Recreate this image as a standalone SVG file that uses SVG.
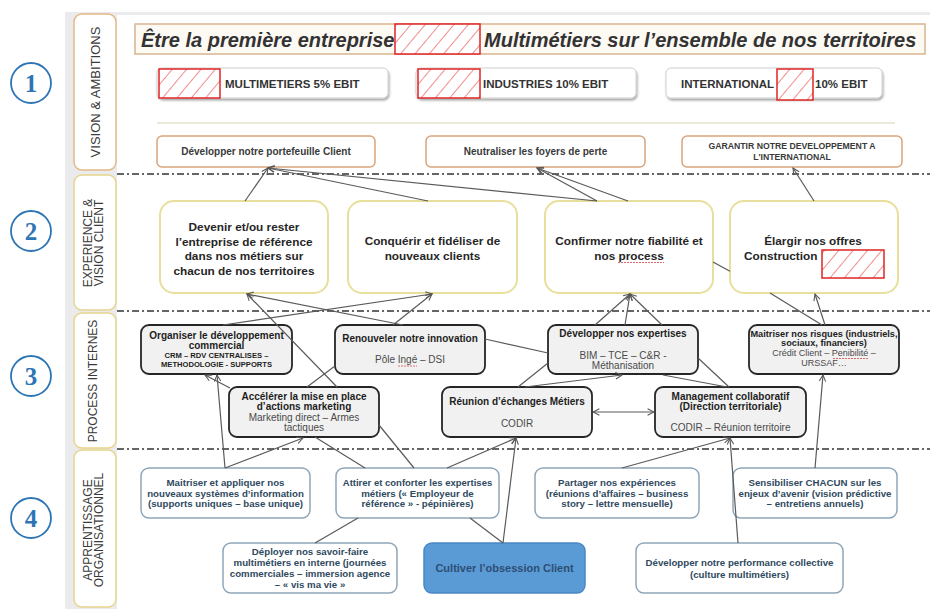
<svg xmlns="http://www.w3.org/2000/svg" width="930" height="609" viewBox="0 0 930 609">
<defs>
<style>
text{font-family:"Liberation Sans",Arial,sans-serif}
.lane{fill:#fff;stroke:#e6d58c;stroke-width:1.5}
.lanet{font-size:12px;fill:#3a3a3a;text-anchor:middle}
.num{font-family:"Liberation Serif","Times New Roman",serif;font-weight:bold;font-size:25px;fill:#2e75b6;text-anchor:middle}
.circ{fill:#fff;stroke:#2e75b6;stroke-width:1.8}
.sep{stroke:#333;stroke-width:1.5;stroke-dasharray:7 3 2 3;fill:none}
.hatch{fill:url(#hatch);stroke:#e02424;stroke-width:1.5}
.kpi{fill:#fff;stroke:#cfcfcf;stroke-width:1}
.kpit{font-size:11.5px;font-weight:bold;fill:#333}
.title{font-size:20px;font-weight:bold;font-style:italic;fill:#333}
.obj{fill:#fff;stroke:#d9a47c;stroke-width:1.5}
.objt{font-size:10px;font-weight:bold;fill:#3a3a3a;text-anchor:middle}
.ex{fill:#fff;stroke:#e9df9c;stroke-width:2}
.ext{font-size:11.8px;font-weight:bold;fill:#262626;text-anchor:middle}
.pi{fill:#f1f1f1;stroke:#262626;stroke-width:1.8}
.pib{font-size:10px;font-weight:bold;fill:#1e1e1e;text-anchor:middle}
.pin{font-size:10px;fill:#4a4a4a;text-anchor:middle}
.ap{fill:#fff;stroke:#8ea6b8;stroke-width:1.5}
.apt{font-size:9.7px;font-weight:bold;fill:#2f4a60;text-anchor:middle}
.con{stroke:#5a5a5a;stroke-width:1.2;fill:none}
.arr{marker-end:url(#arr)}
.arr2{marker-start:url(#arr);marker-end:url(#arr)}
.sq{stroke:#e06a6a;stroke-width:1;fill:none;stroke-dasharray:2 1}
</style>
<pattern id="hatch" patternUnits="userSpaceOnUse" width="11" height="11" patternTransform="rotate(40)">
<rect width="11" height="11" fill="#fff"/>
<line x1="0" y1="0" x2="0" y2="11" stroke="#e53030" stroke-width="1.1"/>
</pattern>
<marker id="arr" viewBox="0 0 10 10" refX="9" refY="5" markerWidth="8" markerHeight="8" markerUnits="userSpaceOnUse" orient="auto-start-reverse">
<path d="M1,1 L9,5 L1,9" fill="none" stroke="#555" stroke-width="1.3"/>
</marker>
<filter id="sh" x="-10%" y="-30%" width="120%" height="170%">
<feDropShadow dx="1" dy="2" stdDeviation="1.2" flood-color="#000" flood-opacity="0.35"/>
</filter>
</defs>

<rect x="0" y="0" width="930" height="609" fill="#fff"/>
<rect x="65" y="12" width="865" height="597" fill="#ebebee"/>
<rect x="117" y="15" width="813" height="594" fill="#fff"/>

<g id="circles">
<circle class="circ" cx="31" cy="83" r="20"/><text class="num" x="31" y="91.5">1</text>
<circle class="circ" cx="31" cy="231" r="20"/><text class="num" x="31" y="239.5">2</text>
<circle class="circ" cx="31" cy="376" r="20"/><text class="num" x="31" y="384.5">3</text>
<circle class="circ" cx="31" cy="518" r="20"/><text class="num" x="31" y="526.5">4</text>
</g>

<g id="lanes">
<rect class="lane" x="74" y="14" width="42" height="156" rx="8" style="stroke:#e3b888"/>
<text class="lanet" transform="translate(100,92) rotate(-90)" style="font-size:13px">VISION &amp; AMBITIONS</text>
<rect class="lane" x="74" y="175" width="42" height="135" rx="8"/>
<text class="lanet" transform="translate(92,243) rotate(-90)"><tspan x="0" y="0">EXPERIENCE &amp;</tspan><tspan x="0" y="10.5">VISION CLIENT</tspan></text>
<rect class="lane" x="74" y="313" width="42" height="135" rx="8"/>
<text class="lanet" transform="translate(97,381) rotate(-90)">PROCESS INTERNES</text>
<rect class="lane" x="74" y="450" width="42" height="157" rx="8"/>
<text class="lanet" transform="translate(92,530) rotate(-90)"><tspan x="0" y="0">APPRENTISSAGE</tspan><tspan x="0" y="10.5">ORGANISATIONNEL</tspan></text>
<line x1="157" y1="123" x2="895" y2="123" stroke="#d8d3b2" stroke-width="1"/>
<line class="sep" x1="117" y1="174" x2="930" y2="174"/>
<line class="sep" x1="117" y1="311" x2="930" y2="311"/>
<line class="sep" x1="117" y1="449" x2="930" y2="449"/>
</g>

<g id="title">
<rect x="135" y="24" width="790" height="30" fill="#fdf9f3" stroke="#d9b48f" stroke-width="1.5"/>
<text class="title" x="141" y="47">Être la première entreprise</text>
<rect class="hatch" x="395" y="24" width="85" height="30"/>
<text class="title" x="484" y="47">Multimétiers sur l’ensemble de nos territoires</text>
</g>

<g id="kpi-multimetiers">
<rect class="kpi" x="157" y="68" width="231" height="30" rx="5" filter="url(#sh)"/>
<rect class="hatch" x="159" y="69" width="61" height="29"/>
<text class="kpit" x="225" y="87.5">MULTIMETIERS 5% EBIT</text>
</g>
<g id="kpi-industries">
<rect class="kpi" x="416" y="68" width="220" height="30" rx="5" filter="url(#sh)"/>
<rect class="hatch" x="418" y="69" width="62" height="29"/>
<text class="kpit" x="483" y="87.5">INDUSTRIES 10% EBIT</text>
</g>
<g id="kpi-international">
<rect class="kpi" x="666" y="68" width="216" height="30" rx="5" filter="url(#sh)"/>
<text class="kpit" x="681" y="87.5">INTERNATIONAL</text>
<rect class="hatch" x="777" y="69" width="36" height="31"/>
<text class="kpit" x="815" y="87.5">10% EBIT</text>
</g>

<g id="obj-portefeuille">
<rect class="obj" x="157" y="136" width="218" height="31" rx="5"/>
<text class="objt" x="266" y="155">Développer notre portefeuille Client</text>
</g>
<g id="obj-neutraliser">
<rect class="obj" x="426" y="136" width="219" height="31" rx="5"/>
<text class="objt" x="535.5" y="155">Neutraliser les foyers de perte</text>
</g>
<g id="obj-international">
<rect class="obj" x="682" y="136" width="220" height="31" rx="5"/>
<text class="objt" x="792" y="149" style="font-size:8.7px">GARANTIR NOTRE DEVELOPPEMENT A</text>
<text class="objt" x="792" y="159.5" style="font-size:8.7px">L'INTERNATIONAL</text>
</g>

<g id="ex-devenir">
<rect class="ex" x="160" y="201" width="168" height="92" rx="14"/>
<text class="ext" x="244" y="231">Devenir et/ou rester</text>
<text class="ext" x="244" y="245.5">l’entreprise de référence</text>
<text class="ext" x="244" y="260">dans nos métiers sur</text>
<text class="ext" x="244" y="274.5">chacun de nos territoires</text>
</g>
<g id="ex-conquerir">
<rect class="ex" x="348" y="201" width="169" height="92" rx="14"/>
<text class="ext" x="432.5" y="245">Conquérir et fidéliser de</text>
<text class="ext" x="432.5" y="259.5">nouveaux clients</text>
</g>
<g id="ex-confirmer">
<rect class="ex" x="545" y="201" width="168" height="92" rx="14"/>
<text class="ext" x="629" y="245">Confirmer notre fiabilité et</text>
<text class="ext" x="629" y="259.5">nos process</text>
<line class="sq" x1="618" y1="262.5" x2="664" y2="262.5"/>
</g>
<g id="ex-elargir">
<rect class="ex" x="730" y="201" width="168" height="92" rx="14"/>
<text class="ext" x="813" y="245">Élargir nos offres</text>
<text class="ext" x="744" y="259.5" style="text-anchor:start">Construction</text>
<rect class="hatch" x="822" y="250" width="62" height="28"/>
</g>

<g id="pi-organiser">
<rect class="pi" x="141" y="325" width="151" height="49" rx="8"/>
<text class="pib" x="216.5" y="339">Organiser le développement</text>
<text class="pib" x="216.5" y="348.5">commercial</text>
<text class="pib" x="216.5" y="357.5" style="font-size:7.6px">CRM – RDV CENTRALISES –</text>
<text class="pib" x="216.5" y="366.5" style="font-size:7.6px">METHODOLOGIE - SUPPORTS</text>
</g>
<g id="pi-renouveler">
<rect class="pi" x="335" y="325" width="150" height="49" rx="8"/>
<text class="pib" x="410" y="341.5">Renouveler notre innovation</text>
<text class="pin" x="410" y="363">Pôle Ingé – DSI</text>
<line class="sq" x1="398" y1="366" x2="417" y2="366"/>
</g>
<g id="pi-expertises">
<rect class="pi" x="548" y="325" width="150" height="49" rx="8"/>
<text class="pib" x="623" y="337">Développer nos expertises</text>
<text class="pin" x="623" y="358.5">BIM – TCE – C&amp;R -</text>
<text class="pin" x="623" y="368.5">Méthanisation</text>
</g>
<g id="pi-risques">
<rect class="pi" x="749" y="325" width="150" height="49" rx="8"/>
<text class="pib" x="824" y="336.5" style="font-size:9.2px">Maitriser nos risques (industriels,</text>
<text class="pib" x="824" y="346" style="font-size:9.2px">sociaux, financiers)</text>
<text class="pin" x="824" y="356" style="font-size:9px">Crédit Client – Penibilité –</text>
<text class="pin" x="824" y="366" style="font-size:9px">URSSAF…</text>
<line class="sq" x1="833" y1="358.5" x2="869" y2="358.5"/>
</g>
<g id="pi-marketing">
<rect class="pi" x="229" y="387" width="150" height="50" rx="8"/>
<text class="pib" x="304" y="400">Accélérer la mise en place</text>
<text class="pib" x="304" y="410">d’actions marketing</text>
<text class="pin" x="304" y="421">Marketing direct – Armes</text>
<text class="pin" x="304" y="431">tactiques</text>
</g>
<g id="pi-reunion">
<rect class="pi" x="442" y="387" width="150" height="50" rx="8"/>
<text class="pib" x="517" y="405">Réunion d’échanges Métiers</text>
<text class="pin" x="517" y="426.5">CODIR</text>
</g>
<g id="pi-management">
<rect class="pi" x="655" y="387" width="151" height="50" rx="8"/>
<text class="pib" x="730.5" y="399.5">Management collaboratif</text>
<text class="pib" x="730.5" y="410">(Direction territoriale)</text>
<text class="pin" x="730.5" y="431">CODIR – Réunion territoire</text>
</g>

<g id="ap-systemes">
<rect class="ap" x="141" y="468" width="169" height="50" rx="8"/>
<text class="apt" x="225.5" y="486">Maitriser et appliquer nos</text>
<text class="apt" x="225.5" y="496.7">nouveaux systèmes d’information</text>
<text class="apt" x="225.5" y="507.4">(supports uniques – base unique)</text>
</g>
<g id="ap-attirer">
<rect class="ap" x="336" y="468" width="163" height="50" rx="8"/>
<text class="apt" x="417.5" y="486" style="font-size:9.5px">Attirer et conforter les expertises</text>
<text class="apt" x="417.5" y="496.7">métiers (« Employeur de</text>
<text class="apt" x="417.5" y="507.4">référence » - pépinières)</text>
</g>
<g id="ap-partager">
<rect class="ap" x="535" y="468" width="164" height="50" rx="8"/>
<text class="apt" x="617" y="486">Partager nos expériences</text>
<text class="apt" x="617" y="496.7">(réunions d’affaires – business</text>
<text class="apt" x="617" y="507.4">story – lettre mensuelle)</text>
</g>
<g id="ap-sensibiliser">
<rect class="ap" x="733" y="468" width="164" height="50" rx="8"/>
<text class="apt" x="815" y="486">Sensibiliser CHACUN sur les</text>
<text class="apt" x="815" y="496.7">enjeux d’avenir (vision prédictive</text>
<text class="apt" x="815" y="507.4">– entretiens annuels)</text>
</g>
<g id="ap-deployer">
<rect class="ap" x="223" y="543" width="174" height="50" rx="8"/>
<text class="apt" x="310" y="555">Déployer nos savoir-faire</text>
<text class="apt" x="310" y="566">multimétiers en interne (journées</text>
<text class="apt" x="310" y="577">commerciales – immersion agence</text>
<text class="apt" x="310" y="588">– « vis ma vie »</text>
</g>
<g id="ap-cultiver">
<rect x="424" y="543" width="161" height="50" rx="8" fill="#5b9bd5" stroke="#4a88c5" stroke-width="1.5"/>
<text class="apt" x="504.5" y="572" style="font-size:11px;fill:#2d4e74">Cultiver l’obsession Client</text>
</g>
<g id="ap-performance">
<rect class="ap" x="636" y="543" width="207" height="50" rx="8"/>
<text class="apt" x="739.5" y="566">Développer notre performance collective</text>
<text class="apt" x="739.5" y="577.5">(culture multimétiers)</text>
</g>

<g id="connectors">
<line class="con arr" x1="245" y1="201" x2="268" y2="168"/>
<line class="con arr" x1="428" y1="201" x2="268" y2="168"/>
<line class="con arr" x1="597" y1="201" x2="268" y2="168"/>
<line class="con arr" x1="597" y1="201" x2="537" y2="168"/>
<line class="con arr" x1="628" y1="201" x2="537" y2="168"/>
<line class="con arr" x1="814" y1="201" x2="793" y2="168"/>
<line class="con arr" x1="337" y1="387" x2="247" y2="294"/>
<line class="con arr" x1="403" y1="325" x2="247" y2="294"/>
<line class="con arr" x1="223" y1="325" x2="432" y2="294"/>
<line class="con arr" x1="393" y1="325" x2="432" y2="294"/>
<line class="con arr" x1="595" y1="325" x2="630" y2="294"/>
<line class="con arr" x1="625" y1="325" x2="630" y2="294"/>
<line class="con arr" x1="662" y1="325" x2="630" y2="294"/>
<line class="con arr" x1="825" y1="325" x2="815" y2="294"/>
<line class="con arr" x1="230" y1="388" x2="205" y2="375"/>
<line class="con arr" x1="225" y1="468" x2="217" y2="375"/>
<line class="con arr" x1="225" y1="468" x2="303" y2="438"/>
<line class="con arr" x1="447" y1="468" x2="516" y2="438"/>
<line class="con arr" x1="503" y1="543" x2="516" y2="438"/>
<line class="con arr" x1="622" y1="468" x2="730" y2="438"/>
<line class="con arr" x1="738" y1="543" x2="730" y2="438"/>
<line class="con arr" x1="815" y1="468" x2="823" y2="375"/>
<line class="con arr" x1="525" y1="387" x2="622" y2="375"/>
<line class="con arr2" x1="593" y1="412" x2="654" y2="412"/>
<line class="con" x1="713" y1="262" x2="730" y2="271.3"/>
<line class="con" x1="770" y1="293" x2="822" y2="325"/>
<line class="con" x1="485" y1="339" x2="548" y2="353"/>
<line class="con" x1="335" y1="366" x2="307" y2="387"/>
<line class="con" x1="315" y1="437" x2="365" y2="468"/>
<line class="con" x1="379" y1="425" x2="414" y2="468"/>
<line class="con" x1="470" y1="518" x2="503" y2="543"/>
<line class="con" x1="358" y1="518" x2="315" y2="543"/>
<line class="con" x1="518" y1="387" x2="548" y2="363"/>
<line class="con" x1="663" y1="375" x2="727" y2="387"/>
<line class="con" x1="698" y1="358" x2="729" y2="387"/>
</g>
</svg>
